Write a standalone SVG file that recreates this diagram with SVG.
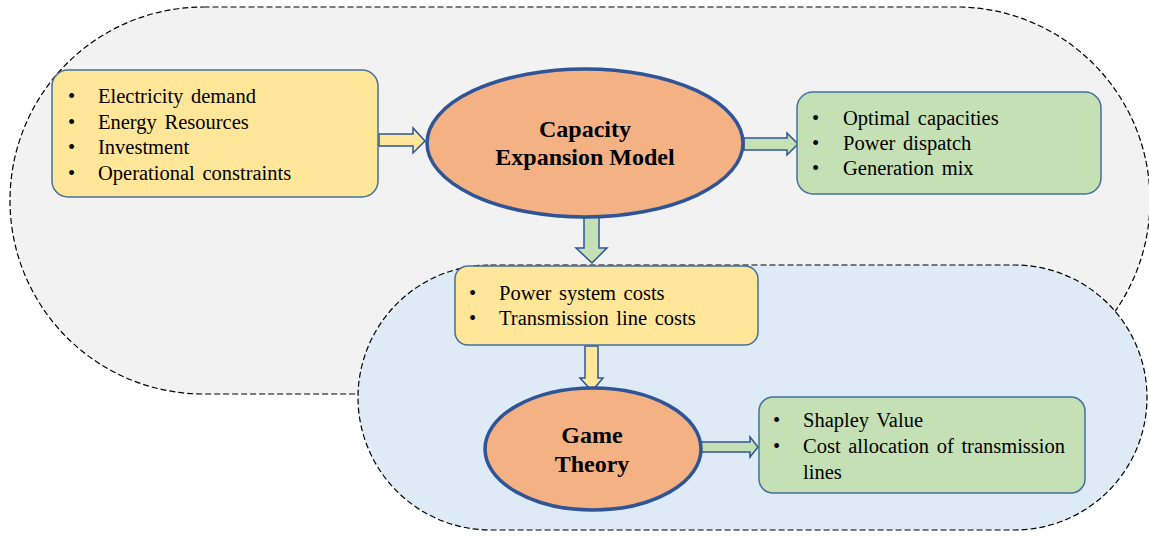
<svg xmlns="http://www.w3.org/2000/svg" width="1149" height="536" viewBox="0 0 1149 536">
<style>
.region{stroke:#000;stroke-width:1.2;stroke-dasharray:6,3}
.box{stroke:#41719C;stroke-width:1.5}
.yellow{fill:#FFE699}
.green{fill:#C5E0B4}
.oval{fill:#F4B183;stroke:#2F5597;stroke-width:3.5}
.arrow{stroke:#2F5597;stroke-width:1.5;stroke-linejoin:miter}
.t{font-family:"Liberation Serif","Times New Roman",serif;font-size:20.5px;fill:#000;word-spacing:2.5px}
.h{font-family:"Liberation Serif","Times New Roman",serif;font-size:24px;font-weight:bold;fill:#000;text-anchor:middle}
</style>
<rect width="1149" height="536" fill="#fff"/>
<g id="region-capacity">
<rect class="region" x="10" y="7" width="1140" height="387" rx="193.5" ry="193.5" fill="#F2F2F2"/>
</g>
<g id="region-game">
<rect class="region" x="358" y="265" width="789" height="265" rx="132.5" ry="132.5" fill="#DEEBF7"/>
</g>
<g id="connectors">
<polygon class="arrow yellow" points="379,134 413,134 413,128 425,141 413,153 413,146 379,146"/>
<polygon class="arrow green" points="744,138 787,138 787,133 798,144 787,155 787,150 744,150"/>
<polygon class="arrow green" points="584,216 599,216 599,248 607,248 592,263 576,248 584,248"/>
<polygon class="arrow yellow" points="585,346 598,346 598,378 603,378 592,391 580,378 585,378"/>
<polygon class="arrow green" points="701,442 750,442 750,437 758,447 750,457 750,452 701,452"/>
</g>
<g id="inputs">
<rect class="box yellow" x="52" y="70" width="326" height="127" rx="16"/>
<text class="t" x="68" y="103">•</text><text class="t" x="98" y="103">Electricity demand</text>
<text class="t" x="68" y="129">•</text><text class="t" x="98" y="129">Energy Resources</text>
<text class="t" x="68" y="154">•</text><text class="t" x="98" y="154">Investment</text>
<text class="t" x="68" y="180">•</text><text class="t" x="98" y="180">Operational constraints</text>
</g>
<g id="capacity-model">
<ellipse class="oval" cx="585" cy="143" rx="158" ry="74"/>
<text class="h" x="585" y="137">Capacity</text>
<text class="h" x="585" y="165">Expansion Model</text>
</g>
<g id="outputs">
<rect class="box green" x="797" y="92" width="304" height="102" rx="16"/>
<text class="t" x="812" y="125">•</text><text class="t" x="843" y="125">Optimal capacities</text>
<text class="t" x="812" y="150">•</text><text class="t" x="843" y="150">Power dispatch</text>
<text class="t" x="812" y="175">•</text><text class="t" x="843" y="175">Generation mix</text>
</g>
<g id="costs">
<rect class="box yellow" x="455" y="266" width="303" height="79" rx="13"/>
<text class="t" x="469" y="300">•</text><text class="t" x="499" y="300">Power system costs</text>
<text class="t" x="469" y="325">•</text><text class="t" x="499" y="325">Transmission line costs</text>
</g>
<g id="game-theory">
<ellipse class="oval" cx="593" cy="449" rx="108" ry="61"/>
<text class="h" x="592" y="443">Game</text>
<text class="h" x="592" y="472">Theory</text>
</g>
<g id="allocation">
<rect class="box green" x="759" y="397" width="326" height="96" rx="14"/>
<text class="t" x="773" y="427">•</text><text class="t" x="803" y="427">Shapley Value</text>
<text class="t" x="773" y="453">•</text><text class="t" x="803" y="453">Cost allocation of transmission</text>
<text class="t" x="803" y="479">lines</text>
</g>
</svg>
